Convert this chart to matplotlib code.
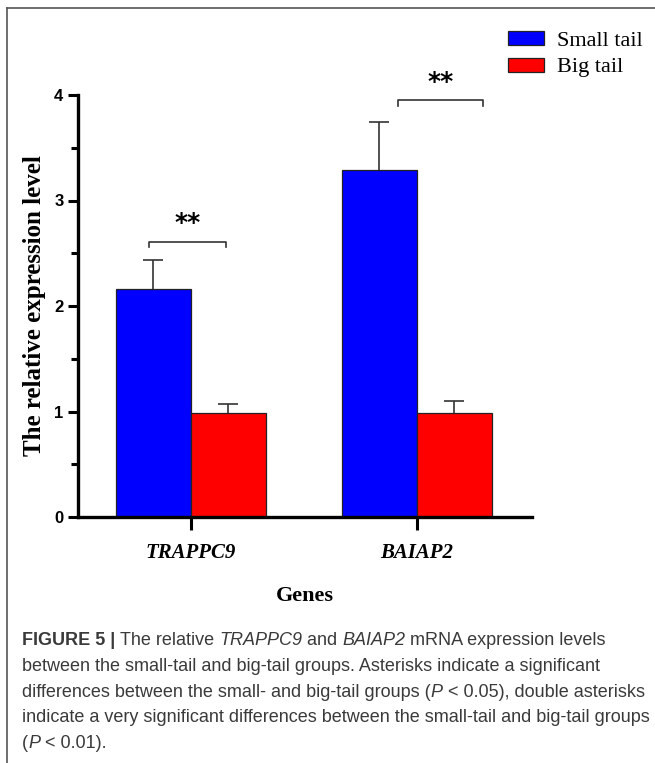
import matplotlib
matplotlib.use("Agg")
import matplotlib.pyplot as plt
import numpy as np
from matplotlib.lines import Line2D

# ---------------- DATA ----------------
genes = ["TRAPPC9", "BAIAP2"]
groups = ["Small tail", "Big tail"]
small_tail = [2.16, 3.29]
small_err = [0.28, 0.45]
big_tail = [0.99, 0.99]
big_err = [0.08, 0.11]
sig_labels = ["**", "**"]
sig_heights = [2.61, 3.95]

colors = ["#0000FF", "#FF0000"]

# ---------------- FIGURE ----------------
W, H = 655, 763
fig = plt.figure(figsize=(W / 100, H / 100), dpi=100)
ax = fig.add_axes([78 / W, 1 - 517 / H, (532 - 78) / W, (517 - 95) / H])

x = np.arange(len(genes))
bw = 0.332

err_kw = dict(ecolor="#333333", elinewidth=1.2, capsize=7.5, capthick=1.2)
b1 = ax.bar(x - bw / 2, small_tail, bw, color=colors[0], edgecolor="#222222",
            linewidth=0.9, label=groups[0],
            yerr=[np.zeros(len(genes)), small_err], error_kw=err_kw)
b2 = ax.bar(x + bw / 2, big_tail, bw, color=colors[1], edgecolor="#222222",
            linewidth=0.9, label=groups[1],
            yerr=[np.zeros(len(genes)), big_err], error_kw=err_kw)
# only the upper caps are wanted
for b in (b1, b2):
    caps = b.errorbar.lines[1]
    if len(caps) == 2:
        caps[0].set_visible(False)

# significance brackets
bracket_span = [(-0.186, 0.155), (-0.084, 0.292)]
for i, (lab, h) in enumerate(zip(sig_labels, sig_heights)):
    x0, x1 = i + bracket_span[i][0], i + bracket_span[i][1]
    ax.plot([x0, x0, x1, x1], [h - 0.05, h, h, h - 0.05],
            color="#333333", lw=1.2)
    ax.text((x0 + x1) / 2, h + 0.06, lab, ha="center", va="bottom",
            fontsize=18, fontweight="bold", family="DejaVu Sans")

ax.set_xlim(-0.5, 1.51)
ax.set_ylim(0, 4)

for s in ["top", "right"]:
    ax.spines[s].set_visible(False)
for s in ["left", "bottom"]:
    ax.spines[s].set_linewidth(2.4)

ax.set_yticks([0, 1, 2, 3, 4])
ax.set_yticks(np.arange(0.5, 4, 1), minor=True)
ax.tick_params(axis="y", which="major", length=7.5, width=2.2, pad=3,
               labelsize=12)
ax.tick_params(axis="y", which="minor", length=5, width=2.2)
for t in ax.get_yticklabels():
    t.set_fontweight("bold")
    t.set_family("Liberation Sans")

ax.set_xticks(x)
ax.set_xticklabels(genes, family="Liberation Serif", fontstyle="italic",
                   fontweight="bold", fontsize=15)
ax.tick_params(axis="x", length=9.5, width=2.2, pad=9)

ax.set_ylabel("The relative expression level", family="Liberation Serif",
              fontweight="bold", fontsize=18, labelpad=6)
ax.set_xlabel("Genes", family="Liberation Serif", fontweight="bold",
              fontsize=16, labelpad=17)

ax.legend(loc="upper left", bbox_to_anchor=(508 / W, 1 - 31 / H),
          bbox_transform=fig.transFigure, frameon=False,
          prop={"family": "Liberation Serif", "size": 16},
          handlelength=1.6, handleheight=0.6, handletextpad=0.6,
          labelspacing=0.3, borderpad=0, borderaxespad=0)

# frame lines of the figure panel
fig.add_artist(Line2D([7 / W, 1], [1 - 8 / H, 1 - 8 / H],
                      transform=fig.transFigure, color="#555555", lw=1.2))
fig.add_artist(Line2D([7 / W, 7 / W], [0, 1 - 8 / H],
                      transform=fig.transFigure, color="#555555", lw=1.2))

# caption, drawn piece by piece so bold / italic runs sit on one baseline
caption = [
    [("FIGURE 5 | ", "bold"), ("The relative ", "normal"), ("TRAPPC9", "italic"),
     (" and ", "normal"), ("BAIAP2", "italic"), (" mRNA expression levels", "normal")],
    [("between the small-tail and big-tail groups. Asterisks indicate a significant", "normal")],
    [("differences between the small- and big-tail groups (", "normal"), ("P", "italic"),
     (" < 0.05), double asterisks", "normal")],
    [("indicate a very significant differences between the small-tail and big-tail groups", "normal")],
    [("(", "normal"), ("P", "italic"), (" < 0.01).", "normal")],
]
renderer = fig.canvas.get_renderer()
for k, line in enumerate(caption):
    xpix = 22
    ypix = 645 + 25.8 * k
    for s, style in line:
        t = fig.text(xpix / W, 1 - ypix / H, s, ha="left", va="baseline",
                     family="Liberation Sans", fontsize=13, color="#3a3a3a",
                     fontweight="bold" if style == "bold" else "normal",
                     fontstyle="italic" if style == "italic" else "normal")
        xpix += t.get_window_extent(renderer=renderer).width

fig.savefig("out.png", dpi=100)
